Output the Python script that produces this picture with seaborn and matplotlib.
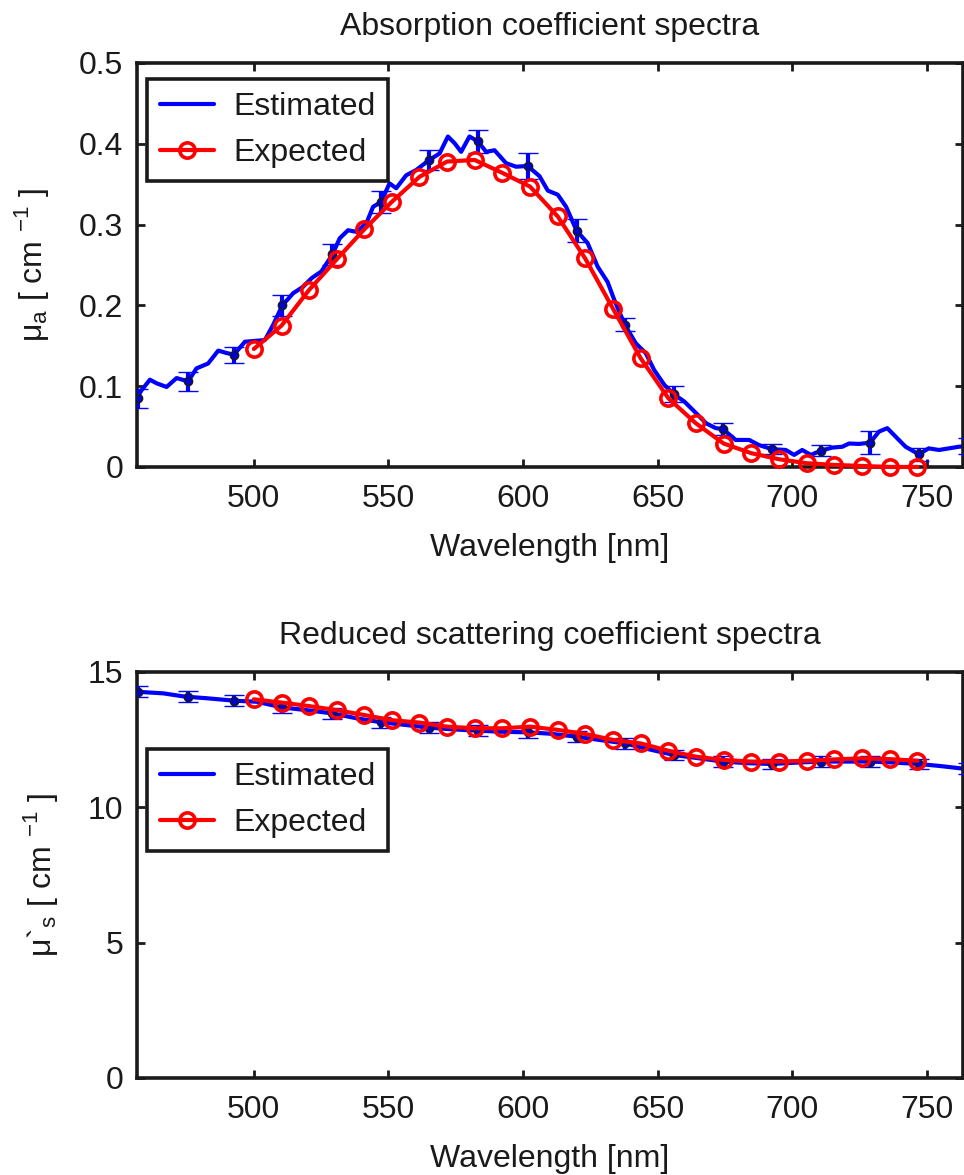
import numpy as np
import pandas as pd
import matplotlib
matplotlib.use('Agg')
import matplotlib.pyplot as plt
import seaborn as sns

# estimated absorption spectrum (traced)
wl_est_a = [456.5, 458.3, 461.4, 463.9, 467.6, 471.3, 475.6, 478.7, 483.0, 486.8, 489.9, 492.6,
            496.7, 500.4, 504.1, 507.2, 510.6, 514.6, 518.3, 521.4, 525.1, 529.2, 531.9, 535.0,
            538.1, 541.8, 544.3, 547.3, 550.4, 552.9, 556.6, 560.3, 565.2, 569.0, 572.1, 574.6,
            577.0, 580.1, 583.2, 586.3, 589.4, 593.7, 597.4, 601.7, 606.1, 609.2, 612.9, 616.0,
            619.9, 624.0, 627.7, 631.4, 633.9, 637.8, 641.9, 645.6, 648.7, 652.5, 656.0, 659.9,
            664.3, 668.0, 671.6, 674.2, 679.0, 684.0, 687.7, 692.5, 697.6, 700.7, 703.7, 706.9,
            710.5, 714.9, 718.6, 721.1, 724.8, 728.9, 732.2, 735.3, 738.4, 742.1, 747.0, 750.7,
            754.5, 758.2, 761.9, 765.0]
mua_est = [0.085, 0.095, 0.108, 0.1035, 0.099, 0.110, 0.106, 0.122, 0.128, 0.144, 0.141, 0.139,
           0.155, 0.156, 0.157, 0.176, 0.200, 0.215, 0.223, 0.2335, 0.242, 0.263, 0.283, 0.293,
           0.291, 0.3016, 0.322, 0.328, 0.351, 0.345, 0.361, 0.3675, 0.380, 0.388, 0.409, 0.4006,
           0.390, 0.409, 0.403, 0.390, 0.392, 0.376, 0.3716, 0.3725, 0.360, 0.342, 0.337, 0.322,
           0.2925, 0.277, 0.248, 0.229, 0.2067, 0.176, 0.153, 0.1407, 0.120, 0.1015, 0.090, 0.081,
           0.0665, 0.054, 0.048, 0.047, 0.0334, 0.0334, 0.027, 0.022, 0.021, 0.0149, 0.021, 0.0149,
           0.020, 0.024, 0.025, 0.029, 0.0285, 0.030, 0.0437, 0.048, 0.0375, 0.025, 0.0157, 0.023,
           0.021, 0.023, 0.025, 0.026]

# estimated reduced scattering spectrum (traced)
wl_est_s = [456.5, 466.4, 474.4, 482.5, 492.6, 501.0, 510.6, 519.5, 529.2, 538.1, 547.4, 556.6,
            565.3, 573.9, 583.2, 592.5, 602.0, 610.0, 619.9, 628.3, 637.9, 646.9, 656.2, 665.4,
            674.3, 683.4, 692.6, 701.3, 710.5, 719.8, 728.9, 738.4, 747.0, 754.5, 762.5, 765.0]
mus_est = [14.27, 14.21, 14.09, 14.03, 13.94, 13.90, 13.69, 13.59, 13.47, 13.29, 13.14, 13.04,
           12.94, 12.88, 12.83, 12.79, 12.77, 12.72, 12.61, 12.49, 12.36, 12.14, 11.93, 11.81,
           11.69, 11.63, 11.60, 11.65, 11.69, 11.69, 11.69, 11.65, 11.60, 11.53, 11.44, 11.42]

# error bars on the estimates
wl_err = [457.0, 475.6, 492.6, 510.6, 529.2, 547.3, 565.2, 583.2, 601.7, 619.9, 637.8, 656.0,
          674.2, 692.5, 710.5, 728.9, 747.0, 765.2]
mua_err_val = [0.085, 0.106, 0.139, 0.200, 0.263, 0.328, 0.380, 0.403, 0.3725, 0.2925, 0.176,
               0.090, 0.047, 0.022, 0.020, 0.030, 0.0157, 0.026]
mua_err = [0.012, 0.012, 0.010, 0.013, 0.013, 0.014, 0.012, 0.014, 0.016, 0.014, 0.008, 0.010,
           0.008, 0.006, 0.007, 0.014, 0.008, 0.010]
mus_err_val = [14.27, 14.09, 13.94, 13.69, 13.47, 13.14, 12.94, 12.83, 12.77, 12.61, 12.36,
               11.93, 11.69, 11.60, 11.69, 11.69, 11.60, 11.43]
mus_err = [0.2] * 18

# expected spectra
wl_exp = [500.0, 510.3, 520.5, 530.8, 541.0, 551.2, 561.5, 571.8, 582.0, 592.3, 602.6, 612.9,
          623.1, 633.4, 643.7, 654.0, 664.2, 674.5, 684.8, 695.1, 705.4, 715.6, 725.9, 736.2, 746.5]
mua_exp = [0.146, 0.175, 0.219, 0.257, 0.294, 0.328, 0.359, 0.378, 0.380, 0.364, 0.347, 0.310,
           0.258, 0.196, 0.1345, 0.085, 0.054, 0.029, 0.017, 0.0095, 0.0046, 0.0025, 0.0012, 0.0, 0.0]
mus_exp = [13.99, 13.87, 13.74, 13.59, 13.41, 13.22, 13.13, 12.98, 12.92, 12.92, 12.98, 12.86,
           12.71, 12.49, 12.36, 12.09, 11.87, 11.75, 11.69, 11.69, 11.72, 11.77, 11.81, 11.78, 11.72]

sns.set_theme(style='white')
plt.rcParams['font.family'] = ['Liberation Sans', 'DejaVu Sans']
plt.rcParams['mathtext.fontset'] = 'custom'
plt.rcParams['mathtext.rm'] = 'Liberation Sans'
plt.rcParams['text.color'] = 'k'
plt.rcParams['axes.labelcolor'] = 'k'
plt.rcParams['xtick.color'] = 'k'
plt.rcParams['ytick.color'] = 'k'

FS = 23

fig = plt.figure(figsize=(9.64, 11.75), dpi=100)
ax1 = fig.add_axes([0.1421, 0.6026, 0.8568, 0.3438])
ax2 = fig.add_axes([0.1421, 0.0826, 0.8568, 0.3455])


def draw(ax, wl_e, v_e, v_err_val, v_err, v_exp):
    sns.lineplot(x=wl_e, y=v_e, ax=ax, color='#0000ff', lw=3, sort=False,
                 estimator=None, label='Estimated', zorder=2)
    ax.errorbar(wl_err, v_err_val, yerr=v_err, fmt='o', color='#0000ff', ecolor='#0000ff',
                elinewidth=3, capsize=7.5, capthick=3.4, ms=6, mfc='#0000cc', mec='k',
                mew=1, zorder=3)
    sns.lineplot(x=wl_exp, y=v_exp, ax=ax, color='#ff0000', lw=3, marker='o', ms=11,
                 mfc='none', mec='#ff0000', mew=2.6, sort=False, estimator=None,
                 label='Expected', zorder=4, clip_on=False)
    ax.set_xlim(456.6, 763.4)
    ax.set_xticks([500, 550, 600, 650, 700, 750])
    ax.tick_params(direction='in', length=6, width=2, labelsize=FS, top=True, right=True,
                   bottom=True, left=True, colors='k')
    ax.tick_params(axis='x', pad=12)
    ax.tick_params(axis='y', pad=10)
    for s in ax.spines.values():
        s.set_linewidth(2.6)
        s.set_color('k')
    ax.set_xlabel('Wavelength [nm]', fontsize=FS, labelpad=14)


draw(ax1, wl_est_a, mua_est, mua_err_val, mua_err, mua_exp)
ax1.set_ylim(0, 0.5)
ax1.set_yticks([0, 0.1, 0.2, 0.3, 0.4, 0.5])
ax1.set_yticklabels(['0', '0.1', '0.2', '0.3', '0.4', '0.5'])
ax1.set_title('Absorption coefficient spectra', fontsize=FS, pad=20)
ax1.set_ylabel(r'μ$_\mathregular{a}$ [ cm $^\mathregular{-1}$ ]', fontsize=FS, labelpad=20)
leg1 = ax1.legend(loc='upper left', bbox_to_anchor=(0.012, 0.96), fontsize=FS, frameon=True,
                  fancybox=False, edgecolor='k', framealpha=1, handlelength=1.7,
                  handletextpad=0.6, labelspacing=0.5, borderpad=0.4, borderaxespad=0)
leg1.get_frame().set_linewidth(2.6)

draw(ax2, wl_est_s, mus_est, mus_err_val, mus_err, mus_exp)
ax2.set_ylim(0, 15)
ax2.set_yticks([0, 5, 10, 15])
ax2.set_title('Reduced scattering coefficient spectra', fontsize=FS, pad=20)
ax2.set_ylabel(r'μ`$_\mathregular{s}$ [ cm $^\mathregular{-1}$ ]', fontsize=FS, labelpad=20)
leg2 = ax2.legend(loc='upper left', bbox_to_anchor=(0.012, 0.81), fontsize=FS, frameon=True,
                  fancybox=False, edgecolor='k', framealpha=1, handlelength=1.7,
                  handletextpad=0.6, labelspacing=0.5, borderpad=0.4, borderaxespad=0)
leg2.get_frame().set_linewidth(2.6)

fig.savefig('out.png', dpi=100)
